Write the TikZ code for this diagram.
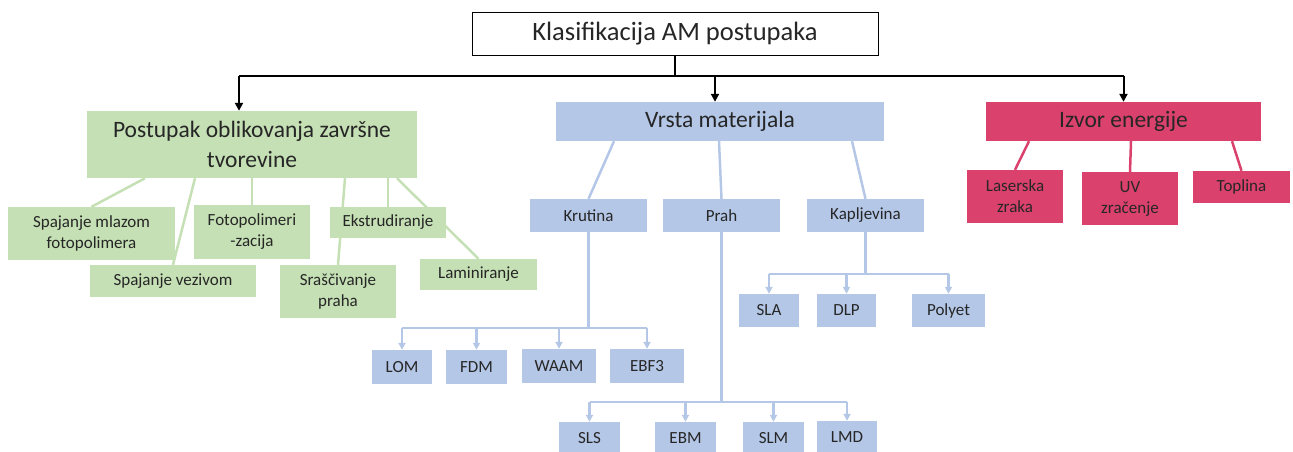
\documentclass[tikz,border=0pt]{standalone}
\usepackage{fontspec}
\setmainfont{Carlito}
\usetikzlibrary{arrows.meta,positioning,backgrounds}
\definecolor{leaf}{HTML}{C5E0B4}
\definecolor{sky}{HTML}{B4C7E7}
\definecolor{rose}{HTML}{DA426D}

\begin{document}
\begin{tikzpicture}[
    x=1pt,
    y=-1pt,
    box/.style={inner sep=0pt, align=center, text=black!85, font=\fontsize{17}{21}\selectfont},
    big/.style={font=\fontsize{23.5}{30}\selectfont},
    gbox/.style={box, fill=leaf},
    bbox/.style={box, fill=sky},
    rbox/.style={box, fill=rose},
    gline/.style={leaf, line width=2.5pt},
    bline/.style={sky, line width=2.5pt},
    rline/.style={rose, line width=2.5pt},
    barr/.style={bline, -{Triangle[length=7pt,width=7pt]}},
    kline/.style={black, line width=2pt},
    karr/.style={kline, -{Triangle[length=8pt,width=8pt]}}
]
\useasboundingbox (0,0) rectangle (1293,451);

% root
\node[box, draw=black, line width=1pt, fill=white, minimum width=406pt, minimum height=43pt,
      font=\fontsize{26.5}{30}\selectfont] (top) at (675,33.5) {Klasifikacija AM postupaka};

% main groups
\node[gbox, big, minimum width=330pt, minimum height=67pt] (gm) at (252,144.5) {Postupak oblikovanja završne\\tvorevine};
\node[bbox, big, minimum width=328pt, minimum height=39pt] (vm) at (720,121.5) {Vrsta materijala};
\node[rbox, big, minimum width=275pt, minimum height=39pt] (rm) at (1123.5,121.5) {Izvor energije};

% green group
\node[gbox, minimum width=167pt, minimum height=53pt] (mlazom) at (91.5,233.5) {Spajanje mlazom\\fotopolimera};
\node[gbox, minimum width=166pt, minimum height=32pt] (vezivom) at (173,281) {Spajanje vezivom};
\node[gbox, minimum width=116pt, minimum height=54pt] (foto) at (252,232) {Fotopolimeri\\-zacija};
\node[gbox, minimum width=116pt, minimum height=31pt] (ekstr) at (388,222.5) {Ekstrudiranje};
\node[gbox, minimum width=116pt, minimum height=53pt] (sras) at (338,291.5) {Sraščivanje\\praha};
\node[gbox, minimum width=117pt, minimum height=31pt] (lamin) at (478.5,274.5) {Laminiranje};

% blue group
\node[bbox, minimum width=117pt, minimum height=33pt] (kru) at (588.5,215.5) {Krutina};
\node[bbox, minimum width=117pt, minimum height=33pt] (prah) at (721.5,215.5) {Prah};
\node[bbox, minimum width=117pt, minimum height=33pt] (kap) at (865.5,215.5) {Kapljevina};

\node[bbox, minimum width=60pt, minimum height=33pt] (sla) at (769,310.5) {SLA};
\node[bbox, minimum width=59pt, minimum height=33pt] (dlp) at (846.5,310.5) {DLP};
\node[bbox, minimum width=73pt, minimum height=33pt] (polyet) at (948.5,310.5) {Polyet};

\node[bbox, minimum width=60pt, minimum height=34pt] (lom) at (402,367) {LOM};
\node[bbox, minimum width=61pt, minimum height=34pt] (fdm) at (476.5,367) {FDM};
\node[bbox, minimum width=74pt, minimum height=34pt] (waam) at (559,366) {WAAM};
\node[bbox, minimum width=74pt, minimum height=34pt] (ebf) at (647,366) {EBF3};

\node[bbox, minimum width=61pt, minimum height=33pt] (sls) at (589.5,438.5) {SLS};
\node[bbox, minimum width=61pt, minimum height=33pt] (ebm) at (685.5,438.5) {EBM};
\node[bbox, minimum width=61pt, minimum height=33pt] (slm) at (773.5,438.5) {SLM};
\node[bbox, minimum width=60pt, minimum height=33pt] (lmd) at (847,437.5) {LMD};

% red group
\node[rbox, minimum width=96pt, minimum height=53pt] (laser) at (1015,196.5) {Laserska\\zraka};
\node[rbox, minimum width=96pt, minimum height=53pt] (uv) at (1130,198.5) {UV\\zračenje};
\node[rbox, minimum width=97pt, minimum height=32pt] (topl) at (1241.5,187) {Toplina};

\begin{scope}[on background layer]
% root to groups
\coordinate (bus) at (0,76);
\coordinate (gin) at ([xshift=-13pt]gm.north);
\coordinate (vin) at ([xshift=-5pt]vm.north);
\draw[kline] (top.south) -- (top.south |- bus);
\draw[kline] (gin |- bus) -- (rm.north |- bus);
\draw[karr] (gin |- bus) -- (gin);
\draw[karr] (vin |- bus) -- (vin);
\draw[karr] (rm.north |- bus) -- (rm.north);

% green links
\draw[gline] ([xshift=-107pt]gm.south) -- (mlazom.north);
\draw[gline] ([xshift=-57pt]gm.south) -- (vezivom.north);
\draw[gline] (gm.south) -- (foto.north);
\draw[gline] ([xshift=93pt]gm.south) -- (sras.north);
\draw[gline] ([xshift=136pt]gm.south) -- (ekstr.north);
\draw[gline] ([xshift=145pt]gm.south) -- (lamin.north);

% blue links
\draw[bline] ([xshift=-106pt]vm.south) -- (kru.north);
\draw[bline] ([xshift=-1pt]vm.south) -- (prah.north);
\draw[bline] ([xshift=132pt]vm.south) -- (kap.north);

\coordinate (kbus) at (0,328);
\draw[bline] (kru.south) -- (kru.south |- kbus);
\draw[bline] (lom.north |- kbus) -- (ebf.north |- kbus);
\foreach \n in {lom,fdm,waam,ebf}
    \draw[barr] (\n.north |- kbus) -- (\n.north);

\coordinate (pbus) at (0,402);
\draw[bline] (prah.south) -- (prah.south |- pbus);
\draw[bline] (sls.north |- pbus) -- (lmd.north |- pbus);
\foreach \n in {sls,ebm,slm,lmd}
    \draw[barr] (\n.north |- pbus) -- (\n.north);

\coordinate (cbus) at (0,274);
\draw[bline] (kap.south) -- (kap.south |- cbus);
\draw[bline] (sla.north |- cbus) -- (polyet.north |- cbus);
\foreach \n in {sla,dlp,polyet}
    \draw[barr] (\n.north |- cbus) -- (\n.north);

% red links
\draw[rline] ([xshift=-94.5pt]rm.south) -- (laser.north);
\draw[rline] ([xshift=7.5pt]rm.south) -- (uv.north);
\draw[rline] ([xshift=108.5pt]rm.south) -- (topl.north);
\end{scope}
\end{tikzpicture}
\end{document}
